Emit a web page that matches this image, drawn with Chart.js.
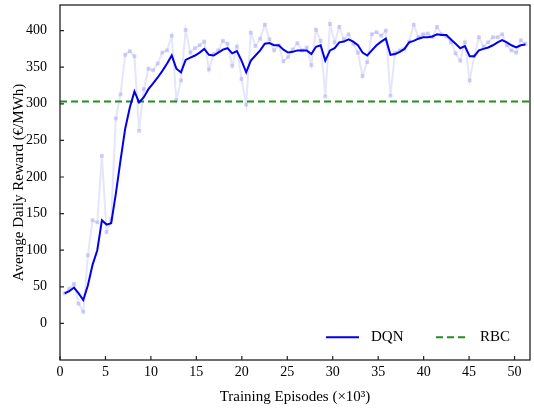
<!DOCTYPE html>
<html>
<head>
<meta charset="utf-8">
<script src="https://cdn.jsdelivr.net/npm/chart.js@4.4.1/dist/chart.umd.min.js"></script>
<style>
html,body{margin:0;padding:0;background:#fff;}
#wrap{width:534px;height:408px;position:relative;}
</style>
</head>
<body>
<div id="wrap"><canvas id="c" width="534" height="408"></canvas></div>
<script>
// Training episodes (x 10^3) at each evaluation
const episodes = [0.51,1.02,1.54,2.05,2.56,3.07,3.58,4.10,4.61,5.12,
5.63,6.14,6.66,7.17,7.68,8.19,8.70,9.22,9.73,10.24,
10.75,11.26,11.78,12.29,12.80,13.31,13.82,14.34,14.85,15.36,
15.87,16.38,16.90,17.41,17.92,18.43,18.94,19.46,19.97,20.48,
20.99,21.50,22.02,22.53,23.04,23.55,24.06,24.58,25.09,25.60,
26.11,26.62,27.14,27.65,28.16,28.67,29.18,29.70,30.21,30.72,
31.23,31.74,32.26,32.77,33.28,33.79,34.30,34.82,35.33,35.84,
36.35,36.86,37.38,37.89,38.40,38.91,39.42,39.94,40.45,40.96,
41.47,41.98,42.50,43.01,43.52,44.03,44.54,45.06,45.57,46.08,
46.59,47.10,47.62,48.13,48.64,49.15,49.66,50.18,50.69,51.20];

// Raw DQN reward (light markers)
const dqnRaw = [41,47,54,27,16,93,141,138,229,125,
142,280,313,367,372,365,263,320,348,346,
355,370,373,393,305,332,401,370,376,380,
385,347,368,373,386,382,352,378,334,299,
397,379,389,408,388,373,380,358,364,374,
383,373,377,353,401,386,310,409,384,405,
388,395,382,370,338,357,395,398,393,400,
311,370,373,375,385,408,391,395,396,391,
405,395,392,384,369,359,384,332,365,391,
378,384,391,391,395,380,373,370,387,382];

// Smoothed DQN reward (solid blue line)
const dqnSmooth = [41,44,49,41,32,52,80,100,141,135,
137,177,223,266,295,317,302,309,320,328,
336,345,355,366,348,343,360,363,366,370,
375,367,366,370,374,376,369,372,359,343,
359,366,373,382,383,380,380,374,370,371,
373,373,373,368,378,380,359,373,376,384,
385,388,385,380,370,366,373,380,385,389,
367,368,371,375,384,386,389,391,391,392,
395,394,394,388,382,376,379,365,365,373,
375,377,380,384,387,384,380,377,380,381];

// Rule-based controller baseline
const rbcValue = 303;

const xTicks = [0,5,10,15,20,25,30,35,40,45,50];
const yTicks = [0,50,100,150,200,250,300,350,400];

const X_MIN = 0, X_MAX = 51.7, Y_MIN = -50, Y_MAX = 435;
const SERIF = "'Liberation Serif','Times New Roman',serif";

const rawPts = episodes.map((x,i)=>({x:x,y:dqnRaw[i]}));
const smoothPts = episodes.map((x,i)=>({x:x,y:dqnSmooth[i]}));
const rbcPts = [{x:X_MIN,y:rbcValue},{x:X_MAX,y:rbcValue}];

const frameAndTicks = {
  id:'frameAndTicks',
  afterDraw(chart){
    const ctx = chart.ctx, a = chart.chartArea;
    const xs = chart.scales.x, ys = chart.scales.y;
    ctx.save();
    ctx.strokeStyle = '#222';
    ctx.lineWidth = 1.2;
    ctx.beginPath();
    xTicks.forEach(v=>{
      const p = xs.getPixelForValue(v);
      ctx.moveTo(p, a.bottom); ctx.lineTo(p, a.bottom-4);
    });
    yTicks.forEach(v=>{
      const p = ys.getPixelForValue(v);
      ctx.moveTo(a.left, p); ctx.lineTo(a.left+4, p);
    });
    ctx.stroke();
    ctx.lineWidth = 1.3;
    ctx.strokeRect(a.left, a.top, a.right-a.left, a.bottom-a.top);
    // legend
    ctx.font = "15px " + SERIF;
    ctx.textBaseline = 'middle';
    ctx.fillStyle = '#000';
    const ly = ys.getPixelForValue(-19);
    ctx.strokeStyle = '#0000ee'; ctx.lineWidth = 2; ctx.setLineDash([]);
    ctx.beginPath(); ctx.moveTo(326, ly); ctx.lineTo(359, ly); ctx.stroke();
    ctx.fillText('DQN', 371, ly);
    ctx.strokeStyle = '#1f8f1f'; ctx.setLineDash([7,4]);
    ctx.beginPath(); ctx.moveTo(436, ly); ctx.lineTo(467, ly); ctx.stroke();
    ctx.setLineDash([]);
    ctx.fillText('RBC', 480, ly);
    ctx.restore();
  }
};

new Chart(document.getElementById('c'), {
  type:'line',
  data:{
    datasets:[
      {label:'DQN raw', data:rawPts, borderColor:'rgba(150,150,240,0.25)', borderWidth:2,
       pointStyle:'rect', pointRadius:2.7, pointBackgroundColor:'rgba(150,150,240,0.42)',
       pointBorderWidth:0, tension:0, order:3},
      {label:'RBC', data:rbcPts, borderColor:'#1f8f1f', borderWidth:2, borderDash:[7,4],
       pointRadius:0, tension:0, order:2},
      {label:'DQN', data:smoothPts, borderColor:'#0000ee', borderWidth:2,
       pointRadius:0, tension:0, order:1}
    ]
  },
  options:{
    responsive:false, animation:false,
    layout:{padding:{top:5,right:3,left:0,bottom:0}},
    plugins:{legend:{display:false}, tooltip:{enabled:false}},
    scales:{
      x:{type:'linear', min:X_MIN, max:X_MAX,
         grid:{display:false, drawTicks:false}, border:{display:false},
         ticks:{stepSize:5, includeBounds:false, autoSkip:false, maxRotation:0, padding:4,
                color:'#000', font:{family:SERIF, size:14}},
         title:{display:true, text:'Training Episodes (×10³)', color:'#000',
                font:{family:SERIF, size:15}, padding:{top:2,bottom:2}},
         afterFit(s){ s.height = 48; s.paddingLeft = 0; s.paddingRight = 0; }},
      y:{type:'linear', min:Y_MIN, max:Y_MAX,
         grid:{display:false, drawTicks:false}, border:{display:false},
         ticks:{stepSize:50, includeBounds:false, padding:13, color:'#000',
                font:{family:SERIF, size:14},
                callback:(v)=> v < 0 ? '' : v},
         title:{display:true, text:'Average Daily Reward (€/MWh)', color:'#000',
                font:{family:SERIF, size:15}, padding:{top:10,bottom:4}},
         afterFit(s){ s.width = 60; s.paddingTop = 0; s.paddingBottom = 0; }}
    }
  },
  plugins:[frameAndTicks]
});
</script>
</body>
</html>
